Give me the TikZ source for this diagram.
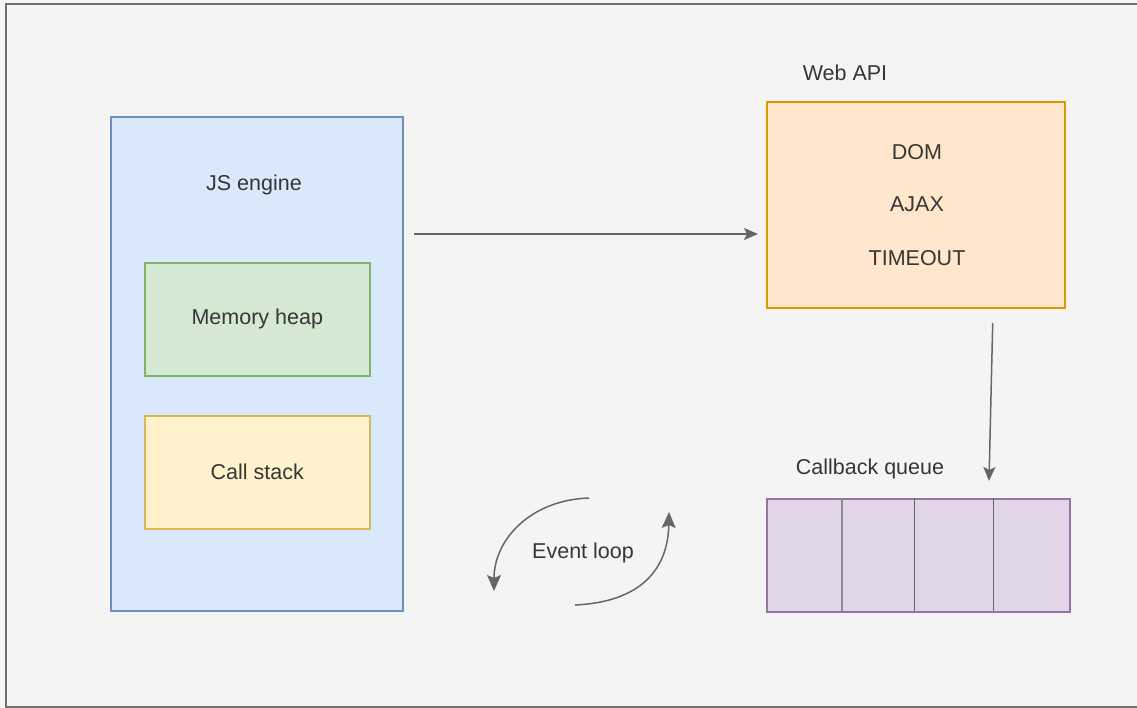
\documentclass[tikz,border=0pt]{standalone}
\usepackage{fontspec}
\setmainfont{Liberation Sans}
\usetikzlibrary{arrows.meta,positioning,calc}
\definecolor{bg}{HTML}{F4F4F4}
\definecolor{frame}{HTML}{707070}
\definecolor{ink}{HTML}{363636}
\definecolor{wire}{HTML}{666666}
\definecolor{blueF}{HTML}{DAE8FC}\definecolor{blueD}{HTML}{6C8EBF}
\definecolor{greenF}{HTML}{D5E8D4}\definecolor{greenD}{HTML}{82B366}
\definecolor{yellowF}{HTML}{FFF2CC}\definecolor{yellowD}{HTML}{D6B656}
\definecolor{orangeF}{HTML}{FFE6CC}\definecolor{orangeD}{HTML}{D79B00}
\definecolor{purpleF}{HTML}{E1D5E7}\definecolor{purpleD}{HTML}{9673A6}
\tikzset{
  lbl/.style={text=ink,font=\fontsize{21.5}{25}\selectfont,inner sep=0pt},
  box/.style={draw=#1D,fill=#1F,line width=1.6pt,inner sep=0pt,anchor=north west},
  conn/.style={draw=wire,line width=1.5pt,-{Stealth[length=14pt,width=12pt,inset=3pt]}},
  loop/.style={draw=wire,line width=1.5pt,-{Stealth[length=16pt,width=14pt,inset=3pt]}},
}
\begin{document}
\begin{tikzpicture}[x=1pt,y=-1pt]
\useasboundingbox (0,0) rectangle (1137,707);
% page background and frame
\fill[bg] (0,0) rectangle (1137,707);
\draw[frame,line width=2pt] (6,4) rectangle (1139,706.5);

% JS engine with its two parts
\node[box=blue,minimum width=292pt,minimum height=494pt] (js) at (110,116) {};
\node[lbl] (jslbl) at (254,185) {JS engine};
\node[box=green,minimum width=225pt,minimum height=113pt] (heap) at (144,262) {};
\node[lbl] at (heap.center) {Memory heap};
\node[box=yellow,minimum width=225pt,minimum height=113pt] (stack) at (144,415) {};
\node[lbl] at (stack.center) {Call stack};

% Web API box
\node[lbl] (weblbl) at (845,73) {Web API};
\node[box=orange,minimum width=298pt,minimum height=206pt] (web) at (766,101) {};
\node[lbl] (dom) at (917,152) {DOM};
\node[lbl] (ajax) at (917,204) {AJAX};
\node[lbl] (timeout) at (917,258) {TIMEOUT};

% callback queue with four slots
\node[lbl] (cblbl) at (870,469) {Callback queue};
\node[box=purple,minimum width=303pt,minimum height=113pt] (queue) at (766,498) {};
\draw[wire!75,line width=2pt] (842.3,498) -- (842.3,611);
\draw[wire,line width=1.5pt] (914.3,498) -- (914.3,611);
\draw[wire,line width=1.5pt] (993.3,498) -- (993.3,611);

% connectors
\coordinate (jsout) at (414,234);
\coordinate (webin) at (758,234);
\draw[conn] (jsout) -- (webin);
\coordinate (webout) at (992.7,323);
\coordinate (queuein) at (989,481);
\draw[conn] (webout) -- (queuein);

% event loop
\node[lbl] (evlbl) at (583,553) {Event loop};
\coordinate (l1) at (589,498);
\coordinate (l2) at (494,591);
\coordinate (r1) at (575,605);
\coordinate (r2) at (669,512);
\draw[loop] (l1) .. controls (530,500) and (494,540) .. (l2);
\draw[loop] (r1) .. controls (640,602) and (668,570) .. (r2);
\end{tikzpicture}
\end{document}
